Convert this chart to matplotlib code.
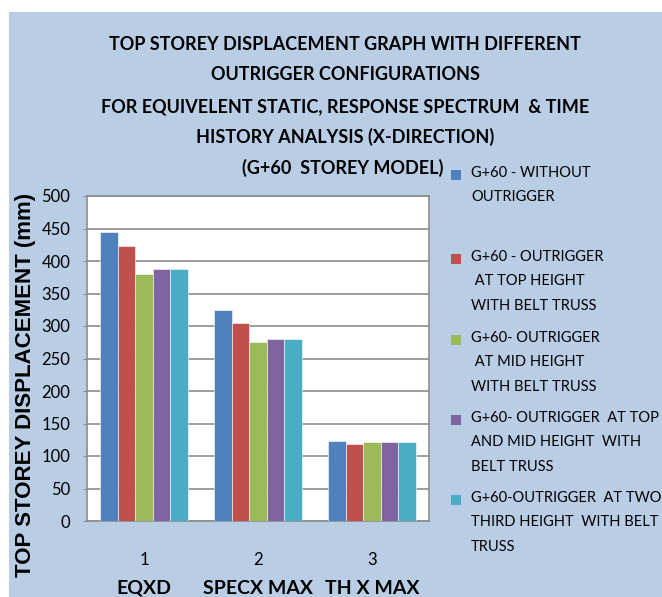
import matplotlib.pyplot as plt
from matplotlib.patches import Rectangle
import numpy as np

cases = ['1', '2', '3']
case_names = ['EQXD', 'SPECX MAX', 'TH X MAX']
series = [
    'G+60 - WITHOUT\nOUTRIGGER',
    'G+60 - OUTRIGGER\n AT TOP HEIGHT\nWITH BELT TRUSS',
    'G+60- OUTRIGGER\n AT MID HEIGHT\nWITH BELT TRUSS',
    'G+60- OUTRIGGER  AT TOP\nAND MID HEIGHT  WITH\nBELT TRUSS',
    'G+60-OUTRIGGER  AT TWO\nTHIRD HEIGHT  WITH BELT\nTRUSS',
]
without_outrigger = [445, 325, 123]
top_belt = [423, 305, 118]
mid_belt = [380, 275, 121]
top_mid_belt = [388, 280, 121]
two_third_belt = [388, 280, 121]
values = [without_outrigger, top_belt, mid_belt, top_mid_belt, two_third_belt]
colors = ['#4F81BD', '#C0504D', '#9BBB59', '#8064A2', '#4BACC6']

FONT = ['Lato', 'DejaVu Sans']
BG = '#B9CDE5'

fig = plt.figure(figsize=(6.62, 5.97), dpi=100, facecolor='white')
fig.add_artist(Rectangle((9 / 662, 0), 1, 1 - 12 / 597, transform=fig.transFigure,
                         facecolor=BG, edgecolor='none', zorder=0))

ax = fig.add_axes([87 / 662, 1 - 521 / 597, 342 / 662, 325 / 597])
ax.set_facecolor('white')

x = np.arange(len(cases))
w = 0.153
for i, (vals, c) in enumerate(zip(values, colors)):
    ax.bar(x + (i - 2) * w, vals, width=w, color=c, edgecolor='white',
           linewidth=0.4, zorder=3)

ax.set_xlim(-0.5, 2.5)
ax.set_ylim(0, 500)
ax.set_yticks(range(0, 501, 50))
ax.grid(axis='y', color='#8C8C8C', linewidth=1.2, zorder=1)
for s in ax.spines.values():
    s.set_color('#8C8C8C')
    s.set_linewidth(1.2)
ax.tick_params(axis='y', length=3, color='#8C8C8C', pad=9, labelsize=12)
ax.tick_params(axis='x', length=0, pad=22, labelsize=12)
ax.set_xticks(x)
ax.set_xticklabels(cases, family=FONT)
for lab in ax.get_yticklabels():
    lab.set_family(FONT)

for xi, name in zip(x, case_names):
    ax.annotate(name, (xi, 0), xycoords=('data', 'axes fraction'),
                xytext=(0, -67), textcoords='offset pixels',
                ha='center', va='center', fontsize=14, fontweight='bold', family=FONT)

fig.text(26 / 662, 1 - 385 / 597, 'TOP STOREY DISPLACEMENT (mm)', rotation=90,
         ha='center', va='center', fontsize=16, fontweight='bold',
         family=['Liberation Sans', 'DejaVu Sans'])

title_lines = [
    'TOP STOREY DISPLACEMENT GRAPH WITH DIFFERENT',
    'OUTRIGGER CONFIGURATIONS',
    'FOR EQUIVELENT STATIC, RESPONSE SPECTRUM  & TIME',
    'HISTORY ANALYSIS (X-DIRECTION)',
]
title_y = [45, 75, 107, 137]
for t, y in zip(title_lines, title_y):
    fig.text(345 / 662, 1 - y / 597, t, ha='center', va='center',
             fontsize=13, fontweight='bold', family=FONT)
fig.text(343 / 662, 1 - 168 / 597, '(G+60  STOREY MODEL)', ha='center', va='center',
         fontsize=13, fontweight='bold', family=FONT)

# legend
leg_y = [175, 259, 340, 420, 500]
for lab, c, y in zip(series, colors, leg_y):
    fig.add_artist(Rectangle((451 / 662, 1 - (y + 5) / 597), 10 / 662, 10 / 597,
                             transform=fig.transFigure, facecolor=c, edgecolor='none'))
    fig.text(471 / 662, 1 - (y - 9) / 597, lab, ha='left', va='top', fontsize=10.5,
             family=FONT, linespacing=1.95)

fig.savefig('out.png', dpi=100, facecolor='white')
